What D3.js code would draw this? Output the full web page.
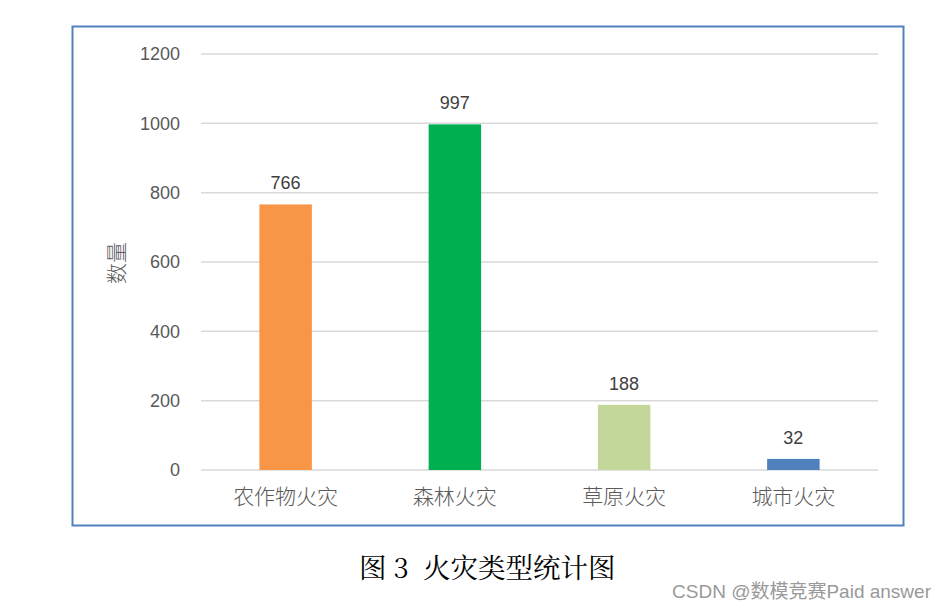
<!DOCTYPE html>
<html>
<head>
<meta charset="utf-8">
<script src="https://cdn.jsdelivr.net/npm/d3@7"></script>
<style>
  body { margin: 0; background: #fff; }
</style>
</head>
<body>
<div class="graphContainer"></div>
<script>
var categories = ["农作物火灾", "森林火灾", "草原火灾", "城市火灾"];
var counts = [766, 997, 188, 32];
var barColors = ["#f79646", "#00b050", "#c4d79b", "#4f81bd"];
var yTicks = [0, 200, 400, 600, 800, 1000, 1200];

var width = 946;
var height = 611;

var svg = d3
  .select(".graphContainer")
  .append("svg")
  .attr("width", width)
  .attr("height", height);

// chart frame
svg
  .append("rect")
  .attr("x", 72.5)
  .attr("y", 26.5)
  .attr("width", 831)
  .attr("height", 499)
  .attr("fill", "#fff")
  .attr("stroke", "#4f81bd")
  .attr("stroke-width", 2);

var xScale = d3
  .scaleBand()
  .domain(categories)
  .range([201, 878])
  .paddingInner(0.69)
  .paddingOuter(0.345);

var yScale = d3.scaleLinear().domain([0, 1200]).range([470, 54]);

// gridlines
svg
  .append("g")
  .selectAll("line")
  .data(yTicks)
  .enter()
  .append("line")
  .attr("x1", 201)
  .attr("x2", 878)
  .attr("y1", (d) => yScale(d))
  .attr("y2", (d) => yScale(d))
  .attr("stroke", "#d9d9d9")
  .attr("stroke-width", 1.5);

// y axis labels
var yAxis = d3
  .axisLeft(yScale)
  .tickValues(yTicks)
  .tickFormat(d3.format("d"))
  .tickSize(0)
  .tickPadding(0);
var yAxisGroup = svg
  .append("g")
  .attr("transform", "translate(180,0)")
  .call(yAxis);
yAxisGroup.select(".domain").remove();
yAxisGroup
  .selectAll("text")
  .attr("fill", "#595959")
  .style("font-family", "'Liberation Sans', sans-serif")
  .style("font-size", "18px");

// bars
svg
  .append("g")
  .selectAll("rect")
  .data(counts)
  .enter()
  .append("rect")
  .attr("x", (d, i) => xScale(categories[i]))
  .attr("y", (d) => yScale(d))
  .attr("width", xScale.bandwidth())
  .attr("height", (d) => yScale(0) - yScale(d))
  .attr("fill", (d, i) => barColors[i]);

// value labels
svg
  .append("g")
  .selectAll("text")
  .data(counts)
  .enter()
  .append("text")
  .attr("x", (d, i) => xScale(categories[i]) + xScale.bandwidth() / 2)
  .attr("y", (d) => yScale(d) - 15)
  .attr("text-anchor", "middle")
  .attr("fill", "#404040")
  .style("font-family", "'Liberation Sans', sans-serif")
  .style("font-size", "18px")
  .text((d) => d);

// x axis labels
var xAxis = d3.axisBottom(xScale).tickSize(0).tickPadding(0);
var xAxisGroup = svg
  .append("g")
  .attr("transform", "translate(0,489)")
  .call(xAxis);
xAxisGroup.select(".domain").remove();
xAxisGroup
  .selectAll("text")
  .attr("fill", "#595959")
  .style("font-family", "'Noto Sans CJK SC', sans-serif")
  .style("font-size", "21px")
  .style("font-weight", "300");

// y axis title
svg
  .append("text")
  .attr("transform", "translate(124,263) rotate(-90)")
  .attr("text-anchor", "middle")
  .attr("fill", "#595959")
  .style("font-family", "'Noto Sans CJK SC', sans-serif")
  .style("font-size", "21px")
  .style("font-weight", "300")
  .text("数量");

// caption
svg
  .append("text")
  .attr("x", 359)
  .attr("y", 578)
  .attr("fill", "#000")
  .style("font-family", "'Noto Serif CJK SC', 'Liberation Serif', serif")
  .style("font-size", "27.5px")
  .style("white-space", "pre")
  .text("图 3  火灾类型统计图");

// watermark
svg
  .append("text")
  .attr("x", 931)
  .attr("y", 598)
  .attr("text-anchor", "end")
  .attr("fill", "#999")
  .style("font-family", "'Liberation Sans', 'Noto Sans CJK SC', sans-serif")
  .style("font-size", "19px")
  .text("CSDN @数模竞赛Paid answer");
</script>
</body>
</html>
